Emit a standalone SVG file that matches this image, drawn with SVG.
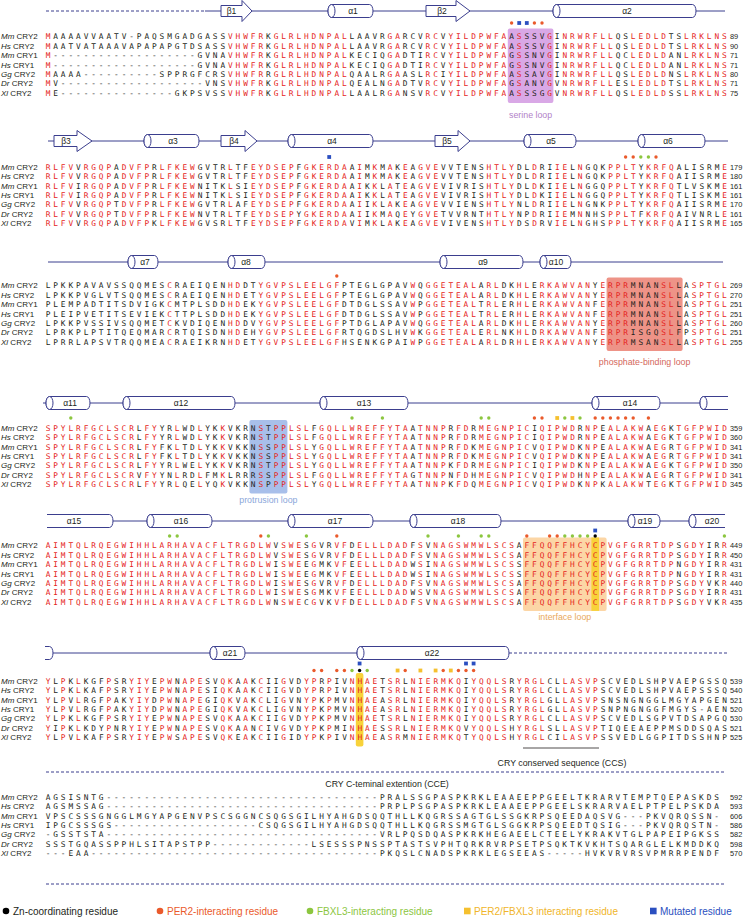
<svg xmlns="http://www.w3.org/2000/svg" xmlns:xlink="http://www.w3.org/1999/xlink" width="746" height="920" viewBox="0 0 746 920">
<style>
.s{font-family:"DejaVu Sans Mono",monospace;font-size:7.8px;letter-spacing:2.904px;fill:#231f20}
.r{fill:#e52421}
.nm{font-family:"Liberation Sans",Arial,sans-serif;font-size:8px;fill:#231f20}
.nu{font-family:"Liberation Sans",Arial,sans-serif;font-size:7.4px;fill:#231f20}
.ss{fill:#fff;stroke:#3b3e8e;stroke-width:1}
.ln{fill:none;stroke:#3b3e8e;stroke-width:1}
.dl{fill:none;stroke:#3b3e8e;stroke-width:1;stroke-dasharray:3 2}
.sl{font-family:"Liberation Sans",Arial,sans-serif;font-size:8.5px;fill:#231f20;text-anchor:middle}
.lb{font-family:"Liberation Sans",Arial,sans-serif;font-size:8.8px;text-anchor:middle}
.lg{font-family:"Liberation Sans",Arial,sans-serif;font-size:10px}
.pr{fill:#ea5a2b}.gr{fill:#8cc63f}.ye{fill:#f5c02f}.bl{fill:#2b4fc0}.bk{fill:#000}
</style>
<defs>
<g id="names">
<text class="nm" x="1" y="2.85"><tspan font-style="italic">Mm</tspan> CRY2</text>
<text class="nm" x="1" y="12.25"><tspan font-style="italic">Hs</tspan> CRY2</text>
<text class="nm" x="1" y="21.65"><tspan font-style="italic">Mm</tspan> CRY1</text>
<text class="nm" x="1" y="31.05"><tspan font-style="italic">Hs</tspan> CRY1</text>
<text class="nm" x="1" y="40.45"><tspan font-style="italic">Gg</tspan> CRY2</text>
<text class="nm" x="1" y="49.85"><tspan font-style="italic">Dr</tspan> CRY2</text>
<text class="nm" x="1" y="59.25"><tspan font-style="italic">Xl</tspan> CRY2</text>
</g>
</defs>

<g id="highlights">
<rect x="507.8" y="28.5" width="45.6" height="74.4" rx="2" fill="#d9a8e6"/>
<rect x="606.6" y="277.5" width="76" height="73.4" rx="2" fill="#ee9387"/>
<rect x="249.4" y="420" width="38" height="73.4" rx="2" fill="#a8bfea"/>
<rect x="523" y="537.5" width="83.6" height="73.4" rx="2" fill="#fcd6a6"/>
<rect x="591.4" y="537.5" width="7.6" height="73.4" fill="#f8d23a"/>
<rect x="355.8" y="673" width="7.6" height="73.4" rx="2" fill="#f8d23a"/>
</g>

<g id="ss1" transform="translate(0,11)">
<line class="dl" x1="46" y1="0" x2="205" y2="0"/><line class="ln" x1="205" y1="0" x2="725" y2="0"/>
<polygon class="ss" points="221,-5.5 242,-5.5 242,-10.5 252,0 242,10.5 242,5.5 221,5.5"/><text class="sl" x="231.5" y="3">β1</text>
<path class="ss" d="M331.5,-6.5H369.5A3.5 6.5 0 0 1 369.5,6.5H331.5A3.5 6.5 0 0 1 331.5,-6.5Z"/><ellipse class="ss" cx="331.5" cy="0" rx="3.5" ry="6.5"/><text class="sl" x="353" y="3">α1</text>
<polygon class="ss" points="426,-5.5 456,-5.5 456,-10.5 470,0 456,10.5 456,5.5 426,5.5"/><text class="sl" x="442" y="3">β2</text>
<path class="ss" d="M556.5,-6.5H692.5A3.5 6.5 0 0 1 692.5,6.5H556.5A3.5 6.5 0 0 1 556.5,-6.5Z"/><ellipse class="ss" cx="556.5" cy="0" rx="3.5" ry="6.5"/><text class="sl" x="627" y="3">α2</text>
</g>
<g id="ss2" transform="translate(0,141)">
<line class="ln" x1="48" y1="0" x2="728" y2="0"/>
<polygon class="ss" points="54,-5.5 77,-5.5 77,-10.5 92,0 77,10.5 77,5.5 54,5.5"/><text class="sl" x="66" y="3">β3</text>
<path class="ss" d="M147.5,-6.5H195.5A3.5 6.5 0 0 1 195.5,6.5H147.5A3.5 6.5 0 0 1 147.5,-6.5Z"/><ellipse class="ss" cx="147.5" cy="0" rx="3.5" ry="6.5"/><text class="sl" x="173" y="3">α3</text>
<polygon class="ss" points="221,-5.5 245,-5.5 245,-10.5 257,0 245,10.5 245,5.5 221,5.5"/><text class="sl" x="234" y="3">β4</text>
<path class="ss" d="M291.5,-6.5H369.5A3.5 6.5 0 0 1 369.5,6.5H291.5A3.5 6.5 0 0 1 291.5,-6.5Z"/><ellipse class="ss" cx="291.5" cy="0" rx="3.5" ry="6.5"/><text class="sl" x="332" y="3">α4</text>
<polygon class="ss" points="435,-5.5 458,-5.5 458,-10.5 470,0 458,10.5 458,5.5 435,5.5"/><text class="sl" x="447" y="3">β5</text>
<path class="ss" d="M527.5,-6.5H572.5A3.5 6.5 0 0 1 572.5,6.5H527.5A3.5 6.5 0 0 1 527.5,-6.5Z"/><ellipse class="ss" cx="527.5" cy="0" rx="3.5" ry="6.5"/><text class="sl" x="551" y="3">α5</text>
<path class="ss" d="M641.5,-6.5H701.5A3.5 6.5 0 0 1 701.5,6.5H641.5A3.5 6.5 0 0 1 641.5,-6.5Z"/><ellipse class="ss" cx="641.5" cy="0" rx="3.5" ry="6.5"/><text class="sl" x="668" y="3">α6</text>
</g>
<g id="ss3" transform="translate(0,262)">
<line class="ln" x1="48" y1="0" x2="723" y2="0"/>
<path class="ss" d="M131.5,-6.5H154.5A3.5 6.5 0 0 1 154.5,6.5H131.5A3.5 6.5 0 0 1 131.5,-6.5Z"/><ellipse class="ss" cx="131.5" cy="0" rx="3.5" ry="6.5"/><text class="sl" x="145" y="3">α7</text>
<path class="ss" d="M231.5,-6.5H261.5A3.5 6.5 0 0 1 261.5,6.5H231.5A3.5 6.5 0 0 1 231.5,-6.5Z"/><ellipse class="ss" cx="231.5" cy="0" rx="3.5" ry="6.5"/><text class="sl" x="246" y="3">α8</text>
<path class="ss" d="M443.5,-6.5H519.5A3.5 6.5 0 0 1 519.5,6.5H443.5A3.5 6.5 0 0 1 443.5,-6.5Z"/><ellipse class="ss" cx="443.5" cy="0" rx="3.5" ry="6.5"/><text class="sl" x="483" y="3">α9</text>
<path class="ss" d="M543.5,-6.5H567.5A3.5 6.5 0 0 1 567.5,6.5H543.5A3.5 6.5 0 0 1 543.5,-6.5Z"/><ellipse class="ss" cx="543.5" cy="0" rx="3.5" ry="6.5"/><text class="sl" x="556" y="3">α10</text>
</g>
<g id="ss4" transform="translate(0,403)">
<line class="ln" x1="43" y1="0" x2="728" y2="0"/>
<path class="ss" d="M49.5,-6.5H86.5A3.5 6.5 0 0 1 86.5,6.5H49.5A3.5 6.5 0 0 1 49.5,-6.5Z"/><ellipse class="ss" cx="49.5" cy="0" rx="3.5" ry="6.5"/><text class="sl" x="70" y="3">α11</text>
<path class="ss" d="M126.5,-6.5H231.5A3.5 6.5 0 0 1 231.5,6.5H126.5A3.5 6.5 0 0 1 126.5,-6.5Z"/><ellipse class="ss" cx="126.5" cy="0" rx="3.5" ry="6.5"/><text class="sl" x="181" y="3">α12</text>
<path class="ss" d="M323.5,-6.5H404.5A3.5 6.5 0 0 1 404.5,6.5H323.5A3.5 6.5 0 0 1 323.5,-6.5Z"/><ellipse class="ss" cx="323.5" cy="0" rx="3.5" ry="6.5"/><text class="sl" x="364" y="3">α13</text>
<path class="ss" d="M595.5,-6.5H656.5A3.5 6.5 0 0 1 656.5,6.5H595.5A3.5 6.5 0 0 1 595.5,-6.5Z"/><ellipse class="ss" cx="595.5" cy="0" rx="3.5" ry="6.5"/><text class="sl" x="630" y="3">α14</text>
<path class="ss" d="M728,-6.5H703.5A3.5 6.5 0 0 0 703.5,6.5H728"/><ellipse class="ss" cx="703.5" cy="0" rx="3.5" ry="6.5"/>
</g>
<g id="ss5" transform="translate(0,521)">
<line class="ln" x1="47" y1="0" x2="725" y2="0"/>
<path class="ss" d="M47,-6.5H109.5A3.5 6.5 0 0 1 109.5,6.5H47"/><text class="sl" x="74" y="3">α15</text>
<path class="ss" d="M150.5,-6.5H208.5A3.5 6.5 0 0 1 208.5,6.5H150.5A3.5 6.5 0 0 1 150.5,-6.5Z"/><ellipse class="ss" cx="150.5" cy="0" rx="3.5" ry="6.5"/><text class="sl" x="181" y="3">α16</text>
<path class="ss" d="M291.5,-6.5H369.5A3.5 6.5 0 0 1 369.5,6.5H291.5A3.5 6.5 0 0 1 291.5,-6.5Z"/><ellipse class="ss" cx="291.5" cy="0" rx="3.5" ry="6.5"/><text class="sl" x="335" y="3">α17</text>
<path class="ss" d="M413.5,-6.5H497.5A3.5 6.5 0 0 1 497.5,6.5H413.5A3.5 6.5 0 0 1 413.5,-6.5Z"/><ellipse class="ss" cx="413.5" cy="0" rx="3.5" ry="6.5"/><text class="sl" x="458" y="3">α18</text>
<path class="ss" d="M631.5,-6.5H656.5A3.5 6.5 0 0 1 656.5,6.5H631.5A3.5 6.5 0 0 1 631.5,-6.5Z"/><ellipse class="ss" cx="631.5" cy="0" rx="3.5" ry="6.5"/><text class="sl" x="645" y="3">α19</text>
<path class="ss" d="M725,-6.5H692.5A3.5 6.5 0 0 0 692.5,6.5H725"/><ellipse class="ss" cx="692.5" cy="0" rx="3.5" ry="6.5"/><text class="sl" x="712" y="3">α20</text>
</g>
<g id="ss6" transform="translate(0,653)">
<line class="ln" x1="45" y1="0" x2="509" y2="0"/><line class="dl" x1="509" y1="0" x2="728" y2="0"/>
<path class="ss" d="M45,-6.5H49.5A3.5 6.5 0 0 1 49.5,6.5H45"/>
<path class="ss" d="M213.5,-6.5H241.5A3.5 6.5 0 0 1 241.5,6.5H213.5A3.5 6.5 0 0 1 213.5,-6.5Z"/><ellipse class="ss" cx="213.5" cy="0" rx="3.5" ry="6.5"/><text class="sl" x="230" y="3">α21</text>
<path class="ss" d="M360.5,-6.5H505.5A3.5 6.5 0 0 1 505.5,6.5H360.5A3.5 6.5 0 0 1 360.5,-6.5Z"/><ellipse class="ss" cx="360.5" cy="0" rx="3.5" ry="6.5"/><text class="sl" x="432" y="3">α22</text>
</g>

<g id="markers">
<circle class="pr" cx="511.6" cy="23" r="1.7"/><rect class="bl" x="517.3" y="21.1" width="3.8" height="3.8"/><rect class="bl" x="524.9" y="21.1" width="3.8" height="3.8"/><circle class="pr" cx="534.4" cy="23" r="1.7"/><circle class="pr" cx="542" cy="23" r="1.7"/>
<rect class="bl" x="327.3" y="155.1" width="3.8" height="3.8"/>
<circle class="pr" cx="625.6" cy="157" r="1.7"/><circle class="pr" cx="633.2" cy="157" r="1.7"/><circle class="gr" cx="640.8" cy="157" r="1.7"/><circle class="gr" cx="648.4" cy="157" r="1.7"/><circle class="pr" cx="656" cy="157" r="1.7"/>
<circle class="pr" cx="336.8" cy="276" r="1.7"/>
<circle class="gr" cx="70.8" cy="418" r="1.7"/><circle class="gr" cx="352" cy="418" r="1.7"/><circle class="gr" cx="382.4" cy="418" r="1.7"/><circle class="gr" cx="481.2" cy="418" r="1.7"/><circle class="gr" cx="488.8" cy="418" r="1.7"/>
<circle class="pr" cx="534.4" cy="418" r="1.7"/><circle class="pr" cx="542" cy="418" r="1.7"/><rect class="ye" x="555.3" y="416.1" width="3.8" height="3.8"/><circle class="gr" cx="564.8" cy="418" r="1.7"/><rect class="ye" x="570.5" y="416.1" width="3.8" height="3.8"/><circle class="gr" cx="580" cy="418" r="1.7"/>
<circle class="pr" cx="595.2" cy="418" r="1.7"/><circle class="pr" cx="602.8" cy="418" r="1.7"/><circle class="pr" cx="610.4" cy="418" r="1.7"/><circle class="pr" cx="618" cy="418" r="1.7"/><circle class="pr" cx="625.6" cy="418" r="1.7"/><circle class="pr" cx="633.2" cy="418" r="1.7"/><circle class="pr" cx="648.4" cy="418" r="1.7"/>
<circle class="gr" cx="169.6" cy="536" r="1.7"/><circle class="gr" cx="177.2" cy="536" r="1.7"/><circle class="pr" cx="260.8" cy="536" r="1.7"/><circle class="gr" cx="268.4" cy="536" r="1.7"/><circle class="gr" cx="306.4" cy="536" r="1.7"/><circle class="pr" cx="336.8" cy="536" r="1.7"/>
<circle class="gr" cx="428" cy="536" r="1.7"/><circle class="gr" cx="458.4" cy="536" r="1.7"/><circle class="gr" cx="481.2" cy="536" r="1.7"/><circle class="gr" cx="488.8" cy="536" r="1.7"/>
<circle class="pr" cx="526.8" cy="536" r="1.7"/><circle class="pr" cx="549.6" cy="536" r="1.7"/><circle class="pr" cx="557.2" cy="536" r="1.7"/><circle class="gr" cx="564.8" cy="536" r="1.7"/><circle class="gr" cx="572.4" cy="536" r="1.7"/><circle class="gr" cx="580" cy="536" r="1.7"/><circle class="gr" cx="587.6" cy="536" r="1.7"/><circle class="bk" cx="595.2" cy="536" r="1.7"/><rect class="bl" x="593.3" y="528.6" width="3.8" height="3.8"/><circle class="gr" cx="724.4" cy="536" r="1.7"/>
<rect class="bl" x="357.7" y="661.6" width="3.8" height="3.8"/><rect class="bl" x="464.1" y="661.6" width="3.8" height="3.8"/><rect class="bl" x="471.7" y="661.6" width="3.8" height="3.8"/>
<circle class="pr" cx="314" cy="670.5" r="1.7"/><circle class="pr" cx="321.6" cy="670.5" r="1.7"/><circle class="pr" cx="336.8" cy="670.5" r="1.7"/><circle class="pr" cx="344.4" cy="670.5" r="1.7"/><circle class="gr" cx="352" cy="670.5" r="1.7"/><circle class="bk" cx="359.6" cy="670.5" r="1.7"/><circle class="gr" cx="367.2" cy="670.5" r="1.7"/>
<rect class="ye" x="395.7" y="668.6" width="3.8" height="3.8"/><circle class="pr" cx="405.2" cy="670.5" r="1.7"/><rect class="ye" x="418.5" y="668.6" width="3.8" height="3.8"/><rect class="ye" x="433.7" y="668.6" width="3.8" height="3.8"/><circle class="pr" cx="443.2" cy="670.5" r="1.7"/><rect class="ye" x="448.9" y="668.6" width="3.8" height="3.8"/><circle class="pr" cx="458.4" cy="670.5" r="1.7"/><circle class="pr" cx="466" cy="670.5" r="1.7"/><circle class="pr" cx="473.6" cy="670.5" r="1.7"/>
</g>

<g id="block1" transform="translate(0,36.5)">
<use xlink:href="#names" href="#names"/>
<text class="s" x="45.65" y="2.85"><tspan class="r">M</tspan>AAAAVVAATV-PAQSMGADGASS<tspan class="r">VHWFR</tspan>K<tspan class="r">GLRLHDNPAL</tspan>LAAVR<tspan class="r">GA</tspan>RCV<tspan class="r">RC</tspan>V<tspan class="r">YILDPWFA</tspan>A<tspan class="r">S</tspan>SSV<tspan class="r">G</tspan>I<tspan class="r">NRWRFLL</tspan>QS<tspan class="r">LEDLD</tspan>TS<tspan class="r">LRKLNS</tspan></text>
<text class="s" x="45.65" y="12.25"><tspan class="r">M</tspan>AATVATAAAVAPAPAPGTDSASS<tspan class="r">VHWFR</tspan>K<tspan class="r">GLRLHDNPAL</tspan>LAAVR<tspan class="r">GA</tspan>RCV<tspan class="r">RC</tspan>V<tspan class="r">YILDPWFA</tspan>A<tspan class="r">S</tspan>SSV<tspan class="r">G</tspan>I<tspan class="r">NRWRFLL</tspan>QS<tspan class="r">LEDLD</tspan>TS<tspan class="r">LRKLNS</tspan></text>
<text class="s" x="45.65" y="21.65"><tspan class="r">M</tspan>-------------------GVNA<tspan class="r">VHWFR</tspan>K<tspan class="r">GLRLHDNPAL</tspan>KECIQ<tspan class="r">GA</tspan>DTI<tspan class="r">RC</tspan>V<tspan class="r">YILDPWFA</tspan>G<tspan class="r">S</tspan>SNV<tspan class="r">G</tspan>I<tspan class="r">NRWRFLL</tspan>QC<tspan class="r">LEDLD</tspan>AN<tspan class="r">LRKLNS</tspan></text>
<text class="s" x="45.65" y="31.05"><tspan class="r">M</tspan>-------------------GVNA<tspan class="r">VHWFR</tspan>K<tspan class="r">GLRLHDNPAL</tspan>KECIQ<tspan class="r">GA</tspan>DTI<tspan class="r">RC</tspan>V<tspan class="r">YILDPWFA</tspan>G<tspan class="r">S</tspan>SNV<tspan class="r">G</tspan>I<tspan class="r">NRWRFLL</tspan>QC<tspan class="r">LEDLD</tspan>AN<tspan class="r">LRKLNS</tspan></text>
<text class="s" x="45.65" y="40.45"><tspan class="r">M</tspan>AAAA----------SPPRGFCRS<tspan class="r">VHWFR</tspan>R<tspan class="r">GLRLHDNPAL</tspan>QAALR<tspan class="r">GA</tspan>ASL<tspan class="r">RC</tspan>I<tspan class="r">YILDPWFA</tspan>A<tspan class="r">S</tspan>SAV<tspan class="r">G</tspan>I<tspan class="r">NRWRFLL</tspan>QS<tspan class="r">LEDLD</tspan>NS<tspan class="r">LRKLNS</tspan></text>
<text class="s" x="45.65" y="49.85"><tspan class="r">M</tspan>V-------------------VNS<tspan class="r">VHWFR</tspan>K<tspan class="r">GLRLHDNPAL</tspan>QEALN<tspan class="r">GA</tspan>DTV<tspan class="r">RC</tspan>V<tspan class="r">YILDPWFA</tspan>G<tspan class="r">S</tspan>ANV<tspan class="r">G</tspan>V<tspan class="r">NRWRFLL</tspan>ES<tspan class="r">LEDLD</tspan>TS<tspan class="r">LRKLNS</tspan></text>
<text class="s" x="45.65" y="59.25"><tspan class="r">M</tspan>E---------------GKPSVSS<tspan class="r">VHWFR</tspan>K<tspan class="r">GLRLHDNPAL</tspan>LAALR<tspan class="r">GA</tspan>NSV<tspan class="r">RC</tspan>V<tspan class="r">YILDPWFA</tspan>A<tspan class="r">S</tspan>SSG<tspan class="r">G</tspan>V<tspan class="r">NRWRFLL</tspan>QS<tspan class="r">LEDLD</tspan>SS<tspan class="r">LRKLNS</tspan></text>
<text class="nu" x="730" y="2.85">89</text><text class="nu" x="730" y="12.25">90</text><text class="nu" x="730" y="21.65">71</text><text class="nu" x="730" y="31.05">71</text><text class="nu" x="730" y="40.45">80</text><text class="nu" x="730" y="49.85">71</text><text class="nu" x="730" y="59.25">75</text>
</g>
<text class="lb" x="530.6" y="118" fill="#b27fc8">serine loop</text>

<g id="block2" transform="translate(0,167)">
<use xlink:href="#names" href="#names"/>
<text class="s" x="45.65" y="2.85"><tspan class="r">RLFV</tspan>V<tspan class="r">RGQP</tspan>A<tspan class="r">DVFP</tspan>R<tspan class="r">LFKEW</tspan>GVTR<tspan class="r">L</tspan>TF<tspan class="r">EYDSEP</tspan>F<tspan class="r">GKERDA</tspan>A<tspan class="r">I</tspan>M<tspan class="r">K</tspan>M<tspan class="r">A</tspan>K<tspan class="r">E</tspan>A<tspan class="r">GVE</tspan>VVTENS<tspan class="r">HTLY</tspan>DL<tspan class="r">D</tspan>RI<tspan class="r">IE</tspan>L<tspan class="r">N</tspan>GQK<tspan class="r">PPLT</tspan>Y<tspan class="r">KRFQ</tspan>ALISRM<tspan class="r">E</tspan></text>
<text class="s" x="45.65" y="12.25"><tspan class="r">RLFV</tspan>V<tspan class="r">RGQP</tspan>A<tspan class="r">DVFP</tspan>R<tspan class="r">LFKEW</tspan>GVTR<tspan class="r">L</tspan>TF<tspan class="r">EYDSEP</tspan>F<tspan class="r">GKERDA</tspan>A<tspan class="r">I</tspan>M<tspan class="r">K</tspan>M<tspan class="r">A</tspan>K<tspan class="r">E</tspan>A<tspan class="r">GVE</tspan>VVTENS<tspan class="r">HTLY</tspan>DL<tspan class="r">D</tspan>RI<tspan class="r">IE</tspan>L<tspan class="r">N</tspan>GQK<tspan class="r">PPLT</tspan>Y<tspan class="r">KRFQ</tspan>AIISRM<tspan class="r">E</tspan></text>
<text class="s" x="45.65" y="21.65"><tspan class="r">RLFV</tspan>I<tspan class="r">RGQP</tspan>A<tspan class="r">DVFP</tspan>R<tspan class="r">LFKEW</tspan>NITK<tspan class="r">L</tspan>SI<tspan class="r">EYDSEP</tspan>F<tspan class="r">GKERDA</tspan>A<tspan class="r">I</tspan>K<tspan class="r">K</tspan>L<tspan class="r">A</tspan>T<tspan class="r">E</tspan>A<tspan class="r">GVE</tspan>VIVRIS<tspan class="r">HTLY</tspan>DL<tspan class="r">D</tspan>KI<tspan class="r">IE</tspan>L<tspan class="r">N</tspan>GGQ<tspan class="r">PPLT</tspan>Y<tspan class="r">KRFQ</tspan>TLVSKM<tspan class="r">E</tspan></text>
<text class="s" x="45.65" y="31.05"><tspan class="r">RLFV</tspan>I<tspan class="r">RGQP</tspan>A<tspan class="r">DVFP</tspan>R<tspan class="r">LFKEW</tspan>NITK<tspan class="r">L</tspan>SI<tspan class="r">EYDSEP</tspan>F<tspan class="r">GKERDA</tspan>A<tspan class="r">I</tspan>K<tspan class="r">K</tspan>L<tspan class="r">A</tspan>T<tspan class="r">E</tspan>A<tspan class="r">GVE</tspan>VIVRIS<tspan class="r">HTLY</tspan>DL<tspan class="r">D</tspan>KI<tspan class="r">IE</tspan>L<tspan class="r">N</tspan>GGQ<tspan class="r">PPLT</tspan>Y<tspan class="r">KRFQ</tspan>TLISKM<tspan class="r">E</tspan></text>
<text class="s" x="45.65" y="40.45"><tspan class="r">RLFV</tspan>V<tspan class="r">RGQP</tspan>T<tspan class="r">DVFP</tspan>R<tspan class="r">LFKEW</tspan>GVTR<tspan class="r">L</tspan>AF<tspan class="r">EYDSEP</tspan>F<tspan class="r">GKERDA</tspan>A<tspan class="r">I</tspan>I<tspan class="r">K</tspan>L<tspan class="r">A</tspan>K<tspan class="r">E</tspan>A<tspan class="r">GVE</tspan>VVIENS<tspan class="r">HTLY</tspan>NL<tspan class="r">D</tspan>RI<tspan class="r">IE</tspan>L<tspan class="r">N</tspan>GNK<tspan class="r">PPLT</tspan>Y<tspan class="r">KRFQ</tspan>AIISRM<tspan class="r">E</tspan></text>
<text class="s" x="45.65" y="49.85"><tspan class="r">RLFV</tspan>V<tspan class="r">RGQP</tspan>T<tspan class="r">DVFP</tspan>R<tspan class="r">LFKEW</tspan>NVTR<tspan class="r">L</tspan>TF<tspan class="r">EYDSEP</tspan>Y<tspan class="r">GKERDA</tspan>A<tspan class="r">I</tspan>I<tspan class="r">K</tspan>M<tspan class="r">A</tspan>Q<tspan class="r">E</tspan>Y<tspan class="r">GVE</tspan>TVVRNT<tspan class="r">HTLY</tspan>NP<tspan class="r">D</tspan>RI<tspan class="r">IE</tspan>M<tspan class="r">N</tspan>NHS<tspan class="r">PPLT</tspan>F<tspan class="r">KRFQ</tspan>AIVNRL<tspan class="r">E</tspan></text>
<text class="s" x="45.65" y="59.25"><tspan class="r">RLFV</tspan>V<tspan class="r">RGQP</tspan>A<tspan class="r">DVFP</tspan>K<tspan class="r">LFKEW</tspan>GVSR<tspan class="r">L</tspan>TF<tspan class="r">EYDSEP</tspan>F<tspan class="r">GKERDA</tspan>V<tspan class="r">I</tspan>M<tspan class="r">K</tspan>L<tspan class="r">A</tspan>K<tspan class="r">E</tspan>A<tspan class="r">GVE</tspan>VIVENS<tspan class="r">HTLY</tspan>DS<tspan class="r">D</tspan>RV<tspan class="r">IE</tspan>L<tspan class="r">N</tspan>GHS<tspan class="r">PPLT</tspan>Y<tspan class="r">KRFQ</tspan>AIISRM<tspan class="r">E</tspan></text>
<text class="nu" x="730" y="2.85">179</text><text class="nu" x="730" y="12.25">180</text><text class="nu" x="730" y="21.65">161</text><text class="nu" x="730" y="31.05">161</text><text class="nu" x="730" y="40.45">170</text><text class="nu" x="730" y="49.85">161</text><text class="nu" x="730" y="59.25">165</text>
</g>

<g id="block3" transform="translate(0,285.5)">
<use xlink:href="#names" href="#names"/>
<text class="s" x="45.65" y="2.85">LPKKPAVAVSSQQMES<tspan class="r">C</tspan>RAEIQEN<tspan class="r">HD</tspan>DT<tspan class="r">YGVPSLEELGF</tspan>PTEGLGPAV<tspan class="r">W</tspan>Q<tspan class="r">GGETEAL</tspan>A<tspan class="r">RL</tspan>DK<tspan class="r">HL</tspan>E<tspan class="r">RKAWVAN</tspan>Y<tspan class="r">ERPR</tspan>MNAN<tspan class="r">SL</tspan>LA<tspan class="r">SPTGL</tspan></text>
<text class="s" x="45.65" y="12.25">LPKKPVGLVTSQQMES<tspan class="r">C</tspan>RAEIQEN<tspan class="r">HD</tspan>ET<tspan class="r">YGVPSLEELGF</tspan>PTEGLGPAV<tspan class="r">W</tspan>Q<tspan class="r">GGETEAL</tspan>A<tspan class="r">RL</tspan>DK<tspan class="r">HL</tspan>E<tspan class="r">RKAWVAN</tspan>Y<tspan class="r">ERPR</tspan>MNAN<tspan class="r">SL</tspan>LA<tspan class="r">SPTGL</tspan></text>
<text class="s" x="45.65" y="21.65">PLEMPADTITSDVIGK<tspan class="r">C</tspan>MTPLSDD<tspan class="r">HD</tspan>EK<tspan class="r">YGVPSLEELGF</tspan>DTDGLSSAV<tspan class="r">W</tspan>P<tspan class="r">GGETEAL</tspan>T<tspan class="r">RL</tspan>ER<tspan class="r">HL</tspan>E<tspan class="r">RKAWVAN</tspan>F<tspan class="r">ERPR</tspan>MNAN<tspan class="r">SL</tspan>LA<tspan class="r">SPTGL</tspan></text>
<text class="s" x="45.65" y="31.05">PLEIPVETITSEVIEK<tspan class="r">C</tspan>TTPLSDD<tspan class="r">HD</tspan>EK<tspan class="r">YGVPSLEELGF</tspan>DTDGLSSAV<tspan class="r">W</tspan>P<tspan class="r">GGETEAL</tspan>T<tspan class="r">RL</tspan>ER<tspan class="r">HL</tspan>E<tspan class="r">RKAWVAN</tspan>F<tspan class="r">ERPR</tspan>MNAN<tspan class="r">SL</tspan>LA<tspan class="r">SPTGL</tspan></text>
<text class="s" x="45.65" y="40.45">LPKKPVSSIVSQQMET<tspan class="r">C</tspan>KVDIQEN<tspan class="r">HD</tspan>DV<tspan class="r">YGVPSLEELGF</tspan>PTDGLAPAV<tspan class="r">W</tspan>Q<tspan class="r">GGETEAL</tspan>A<tspan class="r">RL</tspan>DK<tspan class="r">HL</tspan>E<tspan class="r">RKAWVAN</tspan>Y<tspan class="r">ERPR</tspan>MNAN<tspan class="r">SL</tspan>LA<tspan class="r">SPTGL</tspan></text>
<text class="s" x="45.65" y="49.85">LPRKPLPTITQEQMAR<tspan class="r">C</tspan>RTQISDN<tspan class="r">HD</tspan>EH<tspan class="r">YGVPSLEELGF</tspan>RTQGDSLHV<tspan class="r">W</tspan>K<tspan class="r">GGETEAL</tspan>E<tspan class="r">RL</tspan>NK<tspan class="r">HL</tspan>D<tspan class="r">RKAWVAN</tspan>F<tspan class="r">ERPR</tspan>ISGQ<tspan class="r">SL</tspan>FP<tspan class="r">SPTGL</tspan></text>
<text class="s" x="45.65" y="59.25">LPRRLAPSVTRQQMEA<tspan class="r">C</tspan>RAEIKRN<tspan class="r">HD</tspan>ET<tspan class="r">YGVPSLEELGF</tspan>HSENKGPAI<tspan class="r">W</tspan>P<tspan class="r">GGETEAL</tspan>A<tspan class="r">RL</tspan>DR<tspan class="r">HL</tspan>E<tspan class="r">RKAWVAN</tspan>Y<tspan class="r">ERPR</tspan>MSAN<tspan class="r">SL</tspan>LA<tspan class="r">SPTGL</tspan></text>
<text class="nu" x="730" y="2.85">269</text><text class="nu" x="730" y="12.25">270</text><text class="nu" x="730" y="21.65">251</text><text class="nu" x="730" y="31.05">251</text><text class="nu" x="730" y="40.45">260</text><text class="nu" x="730" y="49.85">251</text><text class="nu" x="730" y="59.25">255</text>
</g>
<text class="lb" x="644.6" y="365" fill="#d4675c">phosphate-binding loop</text>

<g id="block4" transform="translate(0,428)">
<use xlink:href="#names" href="#names"/>
<text class="s" x="45.65" y="2.85"><tspan class="r">SPYLRFGCLSCR</tspan>L<tspan class="r">FY</tspan>YR<tspan class="r">L</tspan>WD<tspan class="r">L</tspan>YK<tspan class="r">K</tspan>VKRN<tspan class="r">S</tspan>T<tspan class="r">PPLSL</tspan>F<tspan class="r">GQLLWREFFYTA</tspan>A<tspan class="r">TNNP</tspan>R<tspan class="r">FD</tspan>R<tspan class="r">MEGNPIC</tspan>I<tspan class="r">QIPWD</tspan>R<tspan class="r">NP</tspan>E<tspan class="r">ALAKW</tspan>A<tspan class="r">EG</tspan>K<tspan class="r">TGFPWID</tspan></text>
<text class="s" x="45.65" y="12.25"><tspan class="r">SPYLRFGCLSCR</tspan>L<tspan class="r">FY</tspan>YR<tspan class="r">L</tspan>WD<tspan class="r">L</tspan>YK<tspan class="r">K</tspan>VKRN<tspan class="r">S</tspan>T<tspan class="r">PPLSL</tspan>F<tspan class="r">GQLLWREFFYTA</tspan>A<tspan class="r">TNNP</tspan>R<tspan class="r">FD</tspan>R<tspan class="r">MEGNPIC</tspan>I<tspan class="r">QIPWD</tspan>R<tspan class="r">NP</tspan>E<tspan class="r">ALAKW</tspan>A<tspan class="r">EG</tspan>K<tspan class="r">TGFPWID</tspan></text>
<text class="s" x="45.65" y="21.65"><tspan class="r">SPYLRFGCLSCR</tspan>L<tspan class="r">FY</tspan>FK<tspan class="r">L</tspan>TD<tspan class="r">L</tspan>YK<tspan class="r">K</tspan>VKKN<tspan class="r">S</tspan>S<tspan class="r">PPLSL</tspan>Y<tspan class="r">GQLLWREFFYTA</tspan>A<tspan class="r">TNNP</tspan>R<tspan class="r">FD</tspan>K<tspan class="r">MEGNPIC</tspan>V<tspan class="r">QIPWD</tspan>K<tspan class="r">NP</tspan>E<tspan class="r">ALAKW</tspan>A<tspan class="r">EG</tspan>R<tspan class="r">TGFPWID</tspan></text>
<text class="s" x="45.65" y="31.05"><tspan class="r">SPYLRFGCLSCR</tspan>L<tspan class="r">FY</tspan>FK<tspan class="r">L</tspan>TD<tspan class="r">L</tspan>YK<tspan class="r">K</tspan>VKKN<tspan class="r">S</tspan>S<tspan class="r">PPLSL</tspan>Y<tspan class="r">GQLLWREFFYTA</tspan>A<tspan class="r">TNNP</tspan>R<tspan class="r">FD</tspan>K<tspan class="r">MEGNPIC</tspan>V<tspan class="r">QIPWD</tspan>K<tspan class="r">NP</tspan>E<tspan class="r">ALAKW</tspan>A<tspan class="r">EG</tspan>R<tspan class="r">TGFPWID</tspan></text>
<text class="s" x="45.65" y="40.45"><tspan class="r">SPYLRFGCLSCR</tspan>L<tspan class="r">FY</tspan>YR<tspan class="r">L</tspan>WE<tspan class="r">L</tspan>YK<tspan class="r">K</tspan>VKRN<tspan class="r">S</tspan>T<tspan class="r">PPLSL</tspan>Y<tspan class="r">GQLLWREFFYTA</tspan>A<tspan class="r">TNNP</tspan>K<tspan class="r">FD</tspan>R<tspan class="r">MEGNPIC</tspan>I<tspan class="r">QIPWD</tspan>K<tspan class="r">NP</tspan>E<tspan class="r">ALAKW</tspan>A<tspan class="r">EG</tspan>K<tspan class="r">TGFPWID</tspan></text>
<text class="s" x="45.65" y="49.85"><tspan class="r">SPYLRFGCLSCR</tspan>V<tspan class="r">FY</tspan>YN<tspan class="r">L</tspan>RD<tspan class="r">L</tspan>FM<tspan class="r">K</tspan>LRRR<tspan class="r">S</tspan>S<tspan class="r">PPLSL</tspan>F<tspan class="r">GQLLWREFFYTA</tspan>G<tspan class="r">TNNP</tspan>N<tspan class="r">FD</tspan>H<tspan class="r">MEGNPIC</tspan>V<tspan class="r">QIPWD</tspan>H<tspan class="r">NP</tspan>E<tspan class="r">ALAKW</tspan>A<tspan class="r">EG</tspan>R<tspan class="r">TGFPWID</tspan></text>
<text class="s" x="45.65" y="59.25"><tspan class="r">SPYLRFGCLSCR</tspan>L<tspan class="r">FY</tspan>YR<tspan class="r">L</tspan>QE<tspan class="r">L</tspan>YQ<tspan class="r">K</tspan>VKKN<tspan class="r">S</tspan>P<tspan class="r">PPLSL</tspan>Y<tspan class="r">GQLLWREFFYTA</tspan>A<tspan class="r">TNNP</tspan>K<tspan class="r">FD</tspan>Q<tspan class="r">MEGNPIC</tspan>V<tspan class="r">QIPWD</tspan>K<tspan class="r">NP</tspan>K<tspan class="r">ALAKW</tspan>T<tspan class="r">EG</tspan>K<tspan class="r">TGFPWID</tspan></text>
<text class="nu" x="730" y="2.85">359</text><text class="nu" x="730" y="12.25">360</text><text class="nu" x="730" y="21.65">341</text><text class="nu" x="730" y="31.05">341</text><text class="nu" x="730" y="40.45">350</text><text class="nu" x="730" y="49.85">341</text><text class="nu" x="730" y="59.25">345</text>
</g>
<text class="lb" x="268.4" y="503" fill="#8aa6da">protrusion loop</text>

<g id="block5" transform="translate(0,545.5)">
<use xlink:href="#names" href="#names"/>
<text class="s" x="45.65" y="2.85"><tspan class="r">AIMTQLRQEGWIHHLARHAVACFLTRGDLW</tspan>V<tspan class="r">SWE</tspan>S<tspan class="r">G</tspan>VR<tspan class="r">VF</tspan>D<tspan class="r">ELLLDAD</tspan>F<tspan class="r">S</tspan>V<tspan class="r">NAGSWMWLSCS</tspan>A<tspan class="r">FFQQFFHCYCPVGFGRRTDP</tspan>S<tspan class="r">GDY</tspan>IR<tspan class="r">R</tspan></text>
<text class="s" x="45.65" y="12.25"><tspan class="r">AIMTQLRQEGWIHHLARHAVACFLTRGDLW</tspan>V<tspan class="r">SWE</tspan>S<tspan class="r">G</tspan>VR<tspan class="r">VF</tspan>D<tspan class="r">ELLLDAD</tspan>F<tspan class="r">S</tspan>V<tspan class="r">NAGSWMWLSCS</tspan>A<tspan class="r">FFQQFFHCYCPVGFGRRTDP</tspan>S<tspan class="r">GDY</tspan>IR<tspan class="r">R</tspan></text>
<text class="s" x="45.65" y="21.65"><tspan class="r">AIMTQLRQEGWIHHLARHAVACFLTRGDLW</tspan>I<tspan class="r">SWE</tspan>E<tspan class="r">G</tspan>MK<tspan class="r">VF</tspan>E<tspan class="r">ELLLDAD</tspan>W<tspan class="r">S</tspan>I<tspan class="r">NAGSWMWLSCS</tspan>S<tspan class="r">FFQQFFHCYCPVGFGRRTDP</tspan>N<tspan class="r">GDY</tspan>IR<tspan class="r">R</tspan></text>
<text class="s" x="45.65" y="31.05"><tspan class="r">AIMTQLRQEGWIHHLARHAVACFLTRGDLW</tspan>I<tspan class="r">SWE</tspan>E<tspan class="r">G</tspan>MK<tspan class="r">VF</tspan>E<tspan class="r">ELLLDAD</tspan>W<tspan class="r">S</tspan>I<tspan class="r">NAGSWMWLSCS</tspan>S<tspan class="r">FFQQFFHCYCPVGFGRRTDP</tspan>N<tspan class="r">GDY</tspan>IR<tspan class="r">R</tspan></text>
<text class="s" x="45.65" y="40.45"><tspan class="r">AIMTQLRQEGWIHHLARHAVACFLTRGDLW</tspan>I<tspan class="r">SWE</tspan>S<tspan class="r">G</tspan>VR<tspan class="r">VF</tspan>D<tspan class="r">ELLLDAD</tspan>F<tspan class="r">S</tspan>V<tspan class="r">NAGSWMWLSCS</tspan>A<tspan class="r">FFQQFFHCYCPVGFGRRTDP</tspan>S<tspan class="r">GDY</tspan>VK<tspan class="r">R</tspan></text>
<text class="s" x="45.65" y="49.85"><tspan class="r">AIMTQLRQEGWIHHLARHAVACFLTRGDLW</tspan>I<tspan class="r">SWE</tspan>S<tspan class="r">G</tspan>MK<tspan class="r">VF</tspan>E<tspan class="r">ELLLDAD</tspan>W<tspan class="r">S</tspan>V<tspan class="r">NAGSWMWLSCS</tspan>A<tspan class="r">FFQQFFHCYCPVGFGRRTDP</tspan>S<tspan class="r">GDY</tspan>IR<tspan class="r">R</tspan></text>
<text class="s" x="45.65" y="59.25"><tspan class="r">AIMTQLRQEGWIHHLARHAVACFLTRGDLW</tspan>N<tspan class="r">SWE</tspan>C<tspan class="r">G</tspan>VK<tspan class="r">VF</tspan>D<tspan class="r">ELLLDAD</tspan>F<tspan class="r">S</tspan>V<tspan class="r">NAGSWMWLSCS</tspan>A<tspan class="r">FFQQFFHCYCPVGFGRRTDP</tspan>S<tspan class="r">GDY</tspan>VK<tspan class="r">R</tspan></text>
<text class="nu" x="730" y="2.85">449</text><text class="nu" x="730" y="12.25">450</text><text class="nu" x="730" y="21.65">431</text><text class="nu" x="730" y="31.05">431</text><text class="nu" x="730" y="40.45">440</text><text class="nu" x="730" y="49.85">431</text><text class="nu" x="730" y="59.25">435</text>
</g>
<text class="lb" x="564.8" y="620" fill="#e9a85b">interface loop</text>

<g id="block6" transform="translate(0,681)">
<use xlink:href="#names" href="#names"/>
<text class="s" x="45.65" y="2.85"><tspan class="r">Y</tspan>L<tspan class="r">P</tspan>K<tspan class="r">L</tspan>KGF<tspan class="r">P</tspan>SR<tspan class="r">YIY</tspan>E<tspan class="r">PW</tspan>N<tspan class="r">APE</tspan>SV<tspan class="r">QK</tspan>A<tspan class="r">A</tspan>K<tspan class="r">C</tspan>II<tspan class="r">G</tspan>VD<tspan class="r">YP</tspan>R<tspan class="r">P</tspan>IV<tspan class="r">NHAE</tspan>T<tspan class="r">SR</tspan>L<tspan class="r">NIERMKQ</tspan>I<tspan class="r">YQQLS</tspan>R<tspan class="r">YRGL</tspan>CL<tspan class="r">LASVP</tspan>SCVEDLSHPVAEPGSSQ</text>
<text class="s" x="45.65" y="12.25"><tspan class="r">Y</tspan>L<tspan class="r">P</tspan>K<tspan class="r">L</tspan>KAF<tspan class="r">P</tspan>SR<tspan class="r">YIY</tspan>E<tspan class="r">PW</tspan>N<tspan class="r">APE</tspan>SI<tspan class="r">QK</tspan>A<tspan class="r">A</tspan>K<tspan class="r">C</tspan>II<tspan class="r">G</tspan>VD<tspan class="r">YP</tspan>R<tspan class="r">P</tspan>IV<tspan class="r">NHAE</tspan>T<tspan class="r">SR</tspan>L<tspan class="r">NIERMKQ</tspan>I<tspan class="r">YQQLS</tspan>R<tspan class="r">YRGL</tspan>CL<tspan class="r">LASVP</tspan>SCVEDLSHPVAEPSSSQ</text>
<text class="s" x="45.65" y="21.65"><tspan class="r">Y</tspan>L<tspan class="r">P</tspan>V<tspan class="r">L</tspan>RGF<tspan class="r">P</tspan>AK<tspan class="r">YIY</tspan>D<tspan class="r">PW</tspan>N<tspan class="r">APE</tspan>GI<tspan class="r">QK</tspan>V<tspan class="r">A</tspan>K<tspan class="r">C</tspan>LI<tspan class="r">G</tspan>VN<tspan class="r">YP</tspan>K<tspan class="r">P</tspan>MV<tspan class="r">NHAE</tspan>A<tspan class="r">SR</tspan>L<tspan class="r">NIERMKQ</tspan>I<tspan class="r">YQQLS</tspan>R<tspan class="r">YRGL</tspan>GL<tspan class="r">LASVP</tspan>SNSNGNGGLMGYAPGEN</text>
<text class="s" x="45.65" y="31.05"><tspan class="r">Y</tspan>L<tspan class="r">P</tspan>V<tspan class="r">L</tspan>RGF<tspan class="r">P</tspan>AK<tspan class="r">YIY</tspan>D<tspan class="r">PW</tspan>N<tspan class="r">APE</tspan>GI<tspan class="r">QK</tspan>V<tspan class="r">A</tspan>K<tspan class="r">C</tspan>LI<tspan class="r">G</tspan>VN<tspan class="r">YP</tspan>K<tspan class="r">P</tspan>MV<tspan class="r">NHAE</tspan>A<tspan class="r">SR</tspan>L<tspan class="r">NIERMKQ</tspan>I<tspan class="r">YQQLS</tspan>R<tspan class="r">YRGL</tspan>GL<tspan class="r">LASVP</tspan>SNPNGNGGFMGYS-AEN</text>
<text class="s" x="45.65" y="40.45"><tspan class="r">Y</tspan>L<tspan class="r">P</tspan>K<tspan class="r">L</tspan>KGF<tspan class="r">P</tspan>SR<tspan class="r">YIY</tspan>E<tspan class="r">PW</tspan>N<tspan class="r">APE</tspan>SV<tspan class="r">QK</tspan>A<tspan class="r">A</tspan>K<tspan class="r">C</tspan>II<tspan class="r">G</tspan>VD<tspan class="r">YP</tspan>K<tspan class="r">P</tspan>MV<tspan class="r">NHAE</tspan>T<tspan class="r">SR</tspan>L<tspan class="r">NIERMKQ</tspan>I<tspan class="r">YQQLS</tspan>R<tspan class="r">YRGL</tspan>CL<tspan class="r">LASVP</tspan>SCVEDLSGPVTDSAPGQ</text>
<text class="s" x="45.65" y="49.85"><tspan class="r">Y</tspan>I<tspan class="r">P</tspan>K<tspan class="r">L</tspan>KDY<tspan class="r">P</tspan>NR<tspan class="r">YIY</tspan>E<tspan class="r">PW</tspan>N<tspan class="r">APE</tspan>SV<tspan class="r">QK</tspan>A<tspan class="r">A</tspan>N<tspan class="r">C</tspan>IV<tspan class="r">G</tspan>VD<tspan class="r">YP</tspan>K<tspan class="r">P</tspan>MI<tspan class="r">NHAE</tspan>S<tspan class="r">SR</tspan>L<tspan class="r">NIERMKQ</tspan>V<tspan class="r">YQQLS</tspan>H<tspan class="r">YRGL</tspan>SL<tspan class="r">LASVP</tspan>TIQEEAEPPMSDDSQAS</text>
<text class="s" x="45.65" y="59.25"><tspan class="r">Y</tspan>L<tspan class="r">P</tspan>V<tspan class="r">L</tspan>KAF<tspan class="r">P</tspan>SR<tspan class="r">YIY</tspan>E<tspan class="r">PW</tspan>S<tspan class="r">APE</tspan>SV<tspan class="r">QK</tspan>E<tspan class="r">A</tspan>K<tspan class="r">C</tspan>II<tspan class="r">G</tspan>ID<tspan class="r">YP</tspan>K<tspan class="r">P</tspan>IV<tspan class="r">NHAE</tspan>A<tspan class="r">SR</tspan>M<tspan class="r">NIERMKQ</tspan>T<tspan class="r">YQQLS</tspan>H<tspan class="r">YRGL</tspan>CI<tspan class="r">LASVP</tspan>SSVEDLGGPITDSSHNP</text>
<text class="nu" x="730" y="2.85">539</text><text class="nu" x="730" y="12.25">540</text><text class="nu" x="730" y="21.65">521</text><text class="nu" x="730" y="31.05">520</text><text class="nu" x="730" y="40.45">530</text><text class="nu" x="730" y="49.85">521</text><text class="nu" x="730" y="59.25">525</text>
</g>
<line x1="523" y1="748" x2="599" y2="748" stroke="#231f20" stroke-width="0.8"/>
<text class="lb" x="562" y="766" fill="#231f20">CRY conserved  sequence (CCS)</text>

<line class="dl" x1="46" y1="772" x2="726" y2="772"/>
<text class="lb" x="387" y="787" fill="#231f20">CRY C-teminal extention (CCE)</text>
<g id="block7" transform="translate(0,797)">
<use xlink:href="#names" href="#names"/>
<text class="s" x="45.65" y="2.85">AGSISNTG------------------------------------PRALSSGPASPKRKLEAAEEPPGEELTKRARVTEMPTQEPASKDS</text>
<text class="s" x="45.65" y="12.25">AGSMSSAG------------------------------------PRPLPSGPASPKRKLEAAEEPPGEELSKRARVAELPTPELPSKDA</text>
<text class="s" x="45.65" y="21.65">VPSCSSSGNGGLMGYAPGENVPSCSGGNCSQGSGILHYAHGDSQQTHLLKQGRSSAGTGLSSGKRPSQEEDAQSVG---PKVQRQSSN-</text>
<text class="s" x="45.65" y="31.05">IPGCSSSGS-------------------CSQGSGILHYAHGDSQQTHLLKQGRSSMGTGLSGGKRPSQEEDTQSIG---PKVQRQSTN-</text>
<text class="s" x="45.65" y="40.45">-GSSTSTA------------------------------------VRLPQSDQASPKRKHEGAEELCTEELYKRAKVTGLPAPEIPGKSS</text>
<text class="s" x="45.65" y="49.85">SSSTGQASSPPHLSITAPSTPP-------------LSESSSPNSSPTASTSVPHTQRKRVRPSETPSQKTKVKHTSQARGLELKMDDKQ</text>
<text class="s" x="45.65" y="59.25">---EAA--------------------------------------PKQSLCNADSPKRKLEGSEEAS-----HVKVRVRSVPMRRPENDF</text>
<text class="nu" x="730" y="2.85">592</text><text class="nu" x="730" y="12.25">593</text><text class="nu" x="730" y="21.65">606</text><text class="nu" x="730" y="31.05">586</text><text class="nu" x="730" y="40.45">582</text><text class="nu" x="730" y="49.85">598</text><text class="nu" x="730" y="59.25">570</text>
</g>
<line class="dl" x1="46" y1="884" x2="726" y2="884"/>

<g id="legend">
<circle cx="6" cy="911" r="3.3" fill="#000"/><text class="lg" x="13" y="914.5" fill="#231f20">Zn-coordinating residue</text>
<circle cx="160" cy="911" r="3.3" fill="#ea5a2b"/><text class="lg" x="167" y="914.5" fill="#ea5a2b">PER2-interacting residue</text>
<circle cx="310" cy="911" r="3.3" fill="#8cc63f"/><text class="lg" x="317" y="914.5" fill="#8cc63f">FBXL3-interacting residue</text>
<rect x="464" y="907.7" width="6.6" height="6.6" fill="#f5c02f"/><text class="lg" x="474" y="914.5" fill="#f0b52a">PER2/FBXL3 interacting residue</text>
<rect x="650" y="907.7" width="6.6" height="6.6" fill="#2b4fc0"/><text class="lg" x="660" y="914.5" fill="#2b4fc0">Mutated residue</text>
</g>
</svg>
